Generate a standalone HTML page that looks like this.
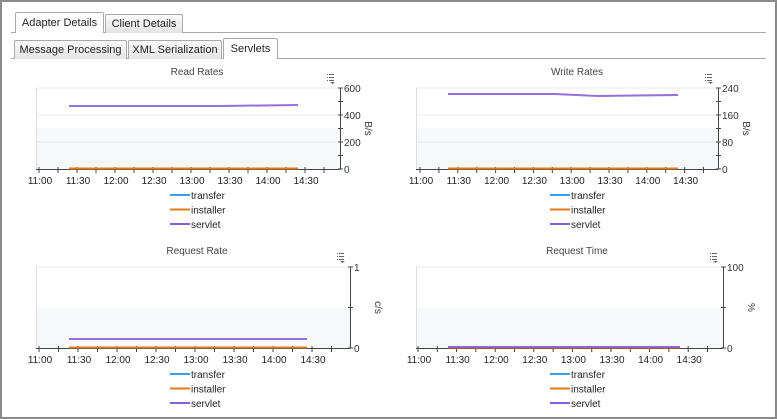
<!DOCTYPE html>
<html><head><meta charset="utf-8"><style>
body{margin:0;width:777px;height:419px;background:#fff;overflow:hidden;font-family:"Liberation Sans",sans-serif;}
#frame{position:absolute;left:0;top:0;width:773px;height:415px;border:2px solid #8a8a8a;}
.tab{position:absolute;height:18px;border:1px solid #a9a9a9;border-bottom:none;background:linear-gradient(#fafafa,#e4e4e4);font-size:11px;color:#222;text-align:center;line-height:18px;border-radius:2px 2px 0 0;white-space:nowrap;overflow:hidden;}
.tab.sel{background:#fff;height:20px;line-height:20px;}
.line{position:absolute;height:1px;background:#a9a9a9;}
svg{position:absolute;left:0;top:0}
</style></head><body>
<div id="frame"></div>
<div class="line" style="left:11px;top:32px;width:755px"></div>
<div class="tab sel" style="left:15px;top:12px;width:87px">Adapter Details</div>
<div class="tab" style="left:105px;top:14px;width:76px">Client Details</div>
<div class="line" style="left:11px;top:58px;width:755px"></div>
<div class="tab" style="left:14px;top:40px;width:111px">Message Processing</div>
<div class="tab" style="left:128px;top:40px;width:92px">XML Serialization</div>
<div class="tab sel" style="left:223px;top:38px;width:53px">Servlets</div>
<svg id="s" width="777" height="419" font-family="Liberation Sans, sans-serif"></svg>
<script>
var s=document.getElementById('s'),h='';
function ch(o){
 var L=o.l,R=o.r,T=o.t,B=o.b;
 h+='<text x="'+o.tx+'" y="'+(T-13)+'" font-size="10" fill="#444" text-anchor="middle">'+o.title+'</text>';
 h+='<rect x="'+L+'" y="'+T+'" width="'+(R-L)+'" height="'+(B-T)+'" fill="#fff"/>';
 h+='<rect x="'+L+'" y="'+o.band+'" width="'+(R-L)+'" height="'+(B-o.band)+'" fill="#f7f8fa"/>';
 h+='<line x1="'+L+'" y1="'+T+'" x2="'+R+'" y2="'+T+'" stroke="#e8e8e8"/>';
 h+='<line x1="'+(L+.5)+'" y1="'+T+'" x2="'+(L+.5)+'" y2="'+B+'" stroke="#ddd"/>';
 o.grid.forEach(function(g){h+='<line x1="'+L+'" y1="'+g+'" x2="'+R+'" y2="'+g+'" stroke="#e8e8e8"/>';});
 h+='<line x1="'+L+'" y1="'+(B+.5)+'" x2="'+R+'" y2="'+(B+.5)+'" stroke="#444"/>';
 h+='<line x1="'+(R+.5)+'" y1="'+T+'" x2="'+(R+.5)+'" y2="'+B+'" stroke="#444"/>';
 var n=o.yl.length;
 for(var i=0;i<(n-1)*2+1;i++){var y=B-(B-T)*i/((n-1)*2);h+='<line x1="'+(R-2)+'" y1="'+y+'" x2="'+(R+3)+'" y2="'+y+'" stroke="#444"/>';}
 o.yl.forEach(function(t,i){var y=B-(B-T)*i/(n-1);h+='<text x="'+(R+4)+'" y="'+(y+4)+'" font-size="10" fill="#333">'+t+'</text>';});
 h+='<text transform="translate('+(R+25)+','+((T+B)/2)+') rotate(90)" font-size="10" fill="#333" text-anchor="middle">'+o.u+'</text>';
 var lb=['11:00','11:30','12:00','12:30','13:00','13:30','14:00','14:30'];
 for(var k=0;k<16;k++){var x=o.x0+o.st*k/2;if(x<R)h+='<line x1="'+x+'" y1="'+(B-2)+'" x2="'+x+'" y2="'+(B+4)+'" stroke="#444"/>';}
 lb.forEach(function(t,k){h+='<text x="'+(o.x0+o.st*k+1)+'" y="'+(B+15)+'" font-size="10" fill="#222" text-anchor="middle">'+t+'</text>';});
 h+='<line x1="'+o.a+'" y1="'+(B-0.5)+'" x2="'+o.z+'" y2="'+(B-0.5)+'" stroke="#e07b1f" stroke-width="2"/>';
 h+='<polyline points="'+o.sv+'" fill="none" stroke="#8a5fd6" stroke-width="2" opacity=".9"/>';
 var ic=R-13,iy=T-14;
 h+='<g fill="#666"><rect x="'+ic+'" y="'+iy+'" width="1" height="1"/><rect x="'+ic+'" y="'+(iy+3)+'" width="1" height="1"/><rect x="'+ic+'" y="'+(iy+6)+'" width="1" height="1"/><rect x="'+(ic+2)+'" y="'+iy+'" width="5" height="1"/><rect x="'+(ic+2)+'" y="'+(iy+3)+'" width="5" height="1"/><rect x="'+(ic+2)+'" y="'+(iy+6)+'" width="5" height="1"/><path d="M'+(ic+3)+' '+(iy+8)+'h5l-2.5 2z"/></g>';
 var lx=o.lx,ly=B+26;
 [['transfer','#3d9cf0'],['installer','#e07b1f'],['servlet','#8a5fd6']].forEach(function(e,i){var y=ly+i*14.5;
  h+='<line x1="'+lx+'" y1="'+y+'" x2="'+(lx+20)+'" y2="'+y+'" stroke="'+e[1]+'" stroke-width="2"/>';
  h+='<text x="'+(lx+21)+'" y="'+(y+4)+'" font-size="10" fill="#222">'+e[0]+'</text>';});
}
ch({title:'Read Rates',tx:197,l:36,r:340,t:88,b:169,band:128,grid:[115,142],yl:['0','200','400','600'],u:'B/s',x0:39,st:38,a:69,z:298,sv:'69,106 220,106 298,105',lx:170});
ch({title:'Write Rates',tx:577,l:416,r:718,t:88,b:169,band:128,grid:[115,142],yl:['0','80','160','240'],u:'B/s',x0:420,st:37.8,a:448,z:678,sv:'448,94 555,94 598,96 678,95',lx:550});
ch({title:'Request Rate',tx:197,l:36,r:350,t:267,b:348,band:308,grid:[],yl:['0','1'],u:'c/s',x0:39,st:39,a:69,z:307,sv:'69,339 307,339',lx:170});
ch({title:'Request Time',tx:577,l:416,r:723,t:267,b:348,band:308,grid:[],yl:['0','100'],u:'%',x0:418,st:38.6,a:448,z:680,sv:'448,347 680,347',lx:550});
s.innerHTML=h;
</script>
</body></html>
